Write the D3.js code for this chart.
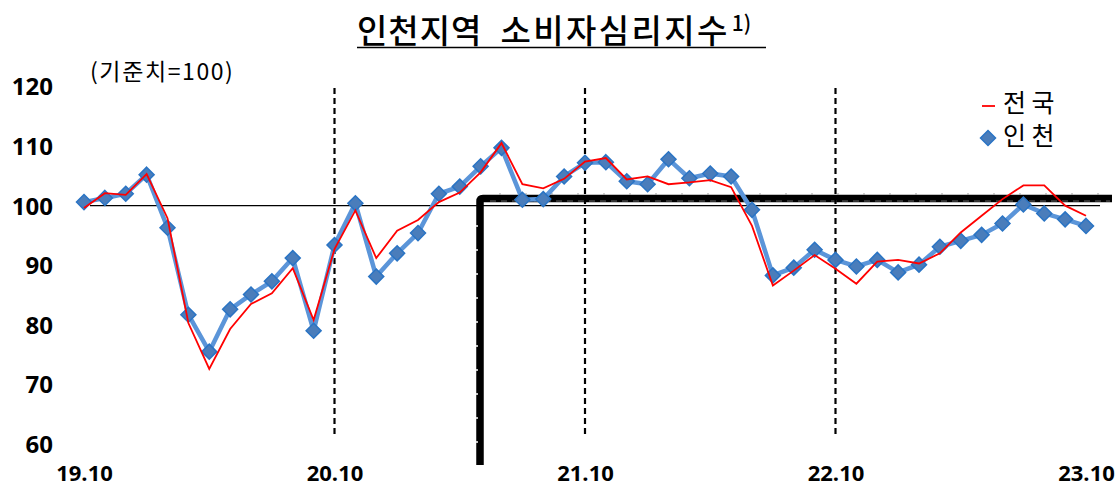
<!DOCTYPE html>
<html>
<head>
<meta charset="utf-8">
<script src="https://cdn.jsdelivr.net/npm/d3@7"></script>
<style>
  html, body { margin: 0; padding: 0; background: #fff; }
  svg { display: block; }
</style>
</head>
<body>
<svg id="chart" width="1118" height="488"></svg>
<script>
// ---- data ----
const months = [
  "19.10","19.11","19.12","20.01","20.02","20.03","20.04","20.05","20.06","20.07","20.08","20.09",
  "20.10","20.11","20.12","21.01","21.02","21.03","21.04","21.05","21.06","21.07","21.08","21.09",
  "21.10","21.11","21.12","22.01","22.02","22.03","22.04","22.05","22.06","22.07","22.08","22.09",
  "22.10","22.11","22.12","23.01","23.02","23.03","23.04","23.05","23.06","23.07","23.08","23.09",
  "23.10"
];
const incheon = [
  100.6,101.3,102.0,105.2,96.3,81.7,75.5,82.6,85.1,87.3,91.2,79.0,
  93.4,100.4,88.1,92.0,95.4,102.0,103.2,106.6,109.7,101.0,101.1,104.9,
  107.2,107.3,104.1,103.6,107.8,104.6,105.4,104.9,99.3,88.3,89.6,92.6,
  90.9,89.8,90.9,88.8,90.1,93.1,94.1,95.1,97.0,100.2,98.7,97.7,
  96.6
];
const national = [
  99.6,102.1,101.8,105.3,97.9,80.3,72.6,79.3,83.5,85.3,89.5,80.8,
  92.7,99.2,91.2,95.8,97.6,100.6,102.2,105.6,110.5,103.6,102.9,104.5,
  107.4,108.0,104.4,104.9,103.6,103.9,104.3,103.1,96.6,86.6,89.1,91.7,
  89.4,86.9,90.6,90.9,90.3,92.0,95.5,98.3,101.1,103.4,103.4,100.0,
  98.3
];
const yTicks = [60, 70, 80, 90, 100, 110, 120];
const xTickLabels = ["19.10", "20.10", "21.10", "22.10", "23.10"];
const dashedAt = ["20.10", "21.10", "22.10"];
const baseLine = 100;
const titleWords = ["인천지역", "소비자심리지수"];
const titleNote = "1)";
const unitText = "(기준치=100)";
const seriesNames = ["전 국", "인 천"];

// ---- scales ----
const svg = d3.select("#chart");
const x = d3.scalePoint().domain(months).range([84, 1086]);
const y = d3.scaleLinear().domain([60, 120]).range([444, 86.5]);

// ---- title ----
const title = svg.append("text")
  .attr("x", 357).attr("y", 43)
  .attr("text-anchor", "start")
  .style("font-family", "'Noto Sans CJK KR', sans-serif")
  .style("font-weight", 500)
  .style("font-size", "33px")
  .attr("fill", "#000");
title.append("tspan").style("letter-spacing", "1px").text(titleWords[0]);
title.append("tspan").attr("dx", 18).style("letter-spacing", "2.4px").text(titleWords[1]);
title.append("tspan").attr("dx", 2).attr("dy", -12).style("font-size", "21px").style("letter-spacing", "0px").text(titleNote);
svg.append("line")
  .attr("x1", 357).attr("x2", 766).attr("y1", 47.5).attr("y2", 47.5)
  .attr("stroke", "#000").attr("stroke-width", 1.5);

// ---- unit ----
svg.append("text")
  .attr("x", 90).attr("y", 80)
  .style("font-family", "'Noto Sans CJK KR', sans-serif")
  .style("font-size", "23px")
  .style("letter-spacing", "1.6px")
  .attr("fill", "#000")
  .text(unitText);

// ---- y axis labels ----
const yAxis = d3.axisLeft(y).tickValues(yTicks).tickSize(0).tickPadding(0);
const gy = svg.append("g").attr("transform", "translate(53,0)").call(yAxis);
gy.select(".domain").remove();
gy.selectAll("text")
  .style("font-family", "'Open Sans', sans-serif")
  .style("font-weight", 700)
  .style("font-size", "24px")
  .attr("fill", "#000")
  .attr("dy", "0.35em");

// ---- x axis labels ----
const xAxis = d3.axisBottom(x).tickValues(xTickLabels).tickSize(0).tickPadding(0);
const gx = svg.append("g").attr("transform", "translate(0,467)").call(xAxis);
gx.select(".domain").remove();
gx.selectAll("text")
  .style("font-family", "'Open Sans', sans-serif")
  .style("font-weight", 700)
  .style("font-size", "22px")
  .attr("fill", "#000")
  .attr("dy", "0.62em");

// ---- thick black L shape ----
const lx = 480, ly = 198.5;
svg.append("path")
  .attr("d", `M${lx},465 L${lx},${ly + 3} Q${lx},${ly} ${lx + 3},${ly} L1112,${ly}`)
  .attr("fill", "none").attr("stroke", "#000").attr("stroke-width", 7.5);
// faint ticks on the thick lines
svg.append("g").selectAll("line")
  .data(d3.range(500, 1110, 26))
  .join("line")
  .attr("x1", d => d).attr("x2", d => d)
  .attr("y1", ly - 5.5).attr("y2", ly - 3.5)
  .attr("stroke", "#999").attr("stroke-width", 1);
svg.append("g").selectAll("line")
  .data(d3.range(226, 465, 24))
  .join("line")
  .attr("x1", lx - 4).attr("x2", lx - 2)
  .attr("y1", d => d).attr("y2", d => d)
  .attr("stroke", "#fff").attr("stroke-width", 1.5);
svg.append("line")
  .attr("x1", 490).attr("x2", 1110).attr("y1", ly + 2.5).attr("y2", ly + 2.5)
  .attr("stroke", "#fff").attr("stroke-width", 0.8).attr("stroke-dasharray", "6,5")
  .attr("opacity", 0.5);

// ---- 100 baseline ----
svg.append("line")
  .attr("x1", 90).attr("x2", 1100)
  .attr("y1", y(baseLine)).attr("y2", y(baseLine))
  .attr("stroke", "#000").attr("stroke-width", 1.4);

// ---- dashed year separators ----
svg.append("g").selectAll("line")
  .data(dashedAt)
  .join("line")
  .attr("x1", d => x(d)).attr("x2", d => x(d))
  .attr("y1", 88).attr("y2", 437)
  .attr("stroke", "#000").attr("stroke-width", 2.2)
  .attr("stroke-dasharray", "6,4");

// ---- Incheon line ----
const lineGen = d3.line().x((d, i) => x(months[i])).y(d => y(d));
svg.append("path")
  .datum(incheon)
  .attr("d", lineGen)
  .attr("fill", "none")
  .attr("stroke", "#5b95d9")
  .attr("stroke-width", 4.5)
  .attr("stroke-linejoin", "round");

const diamond = "M0,-7.5L7.5,0L0,7.5L-7.5,0Z";
svg.append("g").selectAll("path")
  .data(incheon)
  .join("path")
  .attr("d", diamond)
  .attr("transform", (d, i) => `translate(${x(months[i])},${y(d)})`)
  .attr("fill", "#4a7dbb")
  .attr("stroke", "#2a74c4")
  .attr("stroke-width", 1.5);

// ---- National line ----
svg.append("path")
  .datum(national)
  .attr("d", lineGen)
  .attr("fill", "none")
  .attr("stroke", "#ff0000")
  .attr("stroke-width", 1.8);

// ---- legend ----
const lg = svg.append("g");
lg.append("line")
  .attr("x1", 982).attr("x2", 995).attr("y1", 106).attr("y2", 106)
  .attr("stroke", "#ff0000").attr("stroke-width", 1.8);
lg.append("path")
  .attr("d", diamond)
  .attr("transform", "translate(988,138)")
  .attr("fill", "#4a7dbb").attr("stroke", "#2a74c4").attr("stroke-width", 1.5);
lg.selectAll("text")
  .data(seriesNames)
  .join("text")
  .attr("x", 1003)
  .attr("y", (d, i) => 112 + i * 33)
  .style("font-family", "'Noto Sans CJK KR', sans-serif")
  .style("font-size", "25px")
  .attr("fill", "#000")
  .text(d => d);
</script>
</body>
</html>
